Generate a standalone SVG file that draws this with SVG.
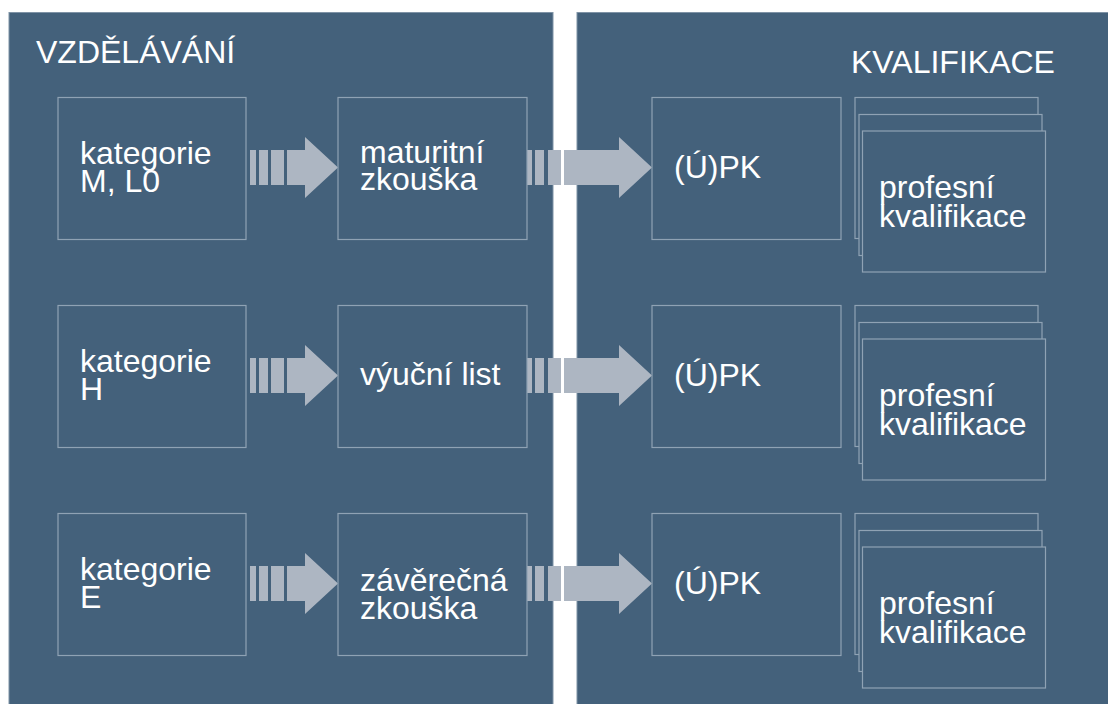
<svg xmlns="http://www.w3.org/2000/svg" xmlns:xlink="http://www.w3.org/1999/xlink" width="1108" height="704" viewBox="0 0 1108 704">
<style>
.panel{fill:#44617b;stroke:#7f93a6;stroke-width:1}
.box{fill:#44617b;stroke:#8fa2b4;stroke-width:1.2}
.t{font-family:"Liberation Sans",Arial,Helvetica,sans-serif;font-size:32px;fill:#ffffff}
.arr{fill:#adb6c2}
</style>
<defs>
<g id="arrA" class="arr">
<rect x="250" y="150" width="6" height="35"/>
<rect x="259" y="150" width="9" height="35"/>
<rect x="271" y="150" width="13" height="35"/>
<polygon points="287,150 305,150 305,137 338,167.5 305,198 305,185 287,185"/>
</g>
<g id="arrB" class="arr">
<rect x="527" y="150" width="5" height="35"/>
<rect x="535" y="150" width="9" height="35"/>
<rect x="548" y="150" width="13" height="35"/>
<polygon points="564,150 619,150 619,137 652,167.5 619,198 619,185 564,185"/>
</g>
</defs>
<rect width="1108" height="704" fill="#ffffff"/>
<g id="panel-vzdelavani">
<rect class="panel" x="9" y="12.5" width="544" height="700"/>
<text class="t" x="36" y="63">VZDĚLÁVÁNÍ</text>
</g>
<g id="panel-kvalifikace">
<rect class="panel" x="577" y="12.5" width="540" height="700"/>
<text class="t" x="851" y="73">KVALIFIKACE</text>
</g>
<g id="connectors">
<use xlink:href="#arrA"/>
<use xlink:href="#arrB"/>
<use xlink:href="#arrA" transform="translate(0,208)"/>
<use xlink:href="#arrB" transform="translate(0,208)"/>
<use xlink:href="#arrA" transform="translate(0,416)"/>
<use xlink:href="#arrB" transform="translate(0,416)"/>
</g>
<g id="node-kat-m">
<rect class="box" x="58" y="97.5" width="188" height="142"/>
<text class="t" x="80" y="164">kategorie</text>
<text class="t" x="80" y="192">M, L0</text>
</g>
<g id="node-maturitni">
<rect class="box" x="338" y="97.5" width="189" height="142"/>
<text class="t" x="360" y="163">maturitní</text>
<text class="t" x="360" y="190">zkouška</text>
</g>
<g id="node-upk-1">
<rect class="box" x="652" y="97.5" width="189" height="142"/>
<text class="t" x="674" y="178">(Ú)PK</text>
</g>
<g id="node-pk-1">
<rect class="box" x="855" y="97.5" width="183" height="141"/>
<rect class="box" x="859" y="114.5" width="183" height="141"/>
<rect class="box" x="862.5" y="131" width="183" height="141"/>
<text class="t" x="879" y="198">profesní</text>
<text class="t" x="879" y="227">kvalifikace</text>
</g>
<g id="node-kat-h">
<rect class="box" x="58" y="305.5" width="188" height="142"/>
<text class="t" x="80" y="372">kategorie</text>
<text class="t" x="80" y="400">H</text>
</g>
<g id="node-vyucni">
<rect class="box" x="338" y="305.5" width="189" height="142"/>
<text class="t" x="360" y="385">výuční list</text>
</g>
<g id="node-upk-2">
<rect class="box" x="652" y="305.5" width="189" height="142"/>
<text class="t" x="674" y="386">(Ú)PK</text>
</g>
<g id="node-pk-2">
<rect class="box" x="855" y="305.5" width="183" height="141"/>
<rect class="box" x="859" y="322.5" width="183" height="141"/>
<rect class="box" x="862.5" y="339" width="183" height="141"/>
<text class="t" x="879" y="406">profesní</text>
<text class="t" x="879" y="435">kvalifikace</text>
</g>
<g id="node-kat-e">
<rect class="box" x="58" y="513.5" width="188" height="142"/>
<text class="t" x="80" y="580">kategorie</text>
<text class="t" x="80" y="608">E</text>
</g>
<g id="node-zaverecna">
<rect class="box" x="338" y="513.5" width="189" height="142"/>
<text class="t" x="360" y="591">závěrečná</text>
<text class="t" x="360" y="619">zkouška</text>
</g>
<g id="node-upk-3">
<rect class="box" x="652" y="513.5" width="189" height="142"/>
<text class="t" x="674" y="594">(Ú)PK</text>
</g>
<g id="node-pk-3">
<rect class="box" x="855" y="513.5" width="183" height="141"/>
<rect class="box" x="859" y="530.5" width="183" height="141"/>
<rect class="box" x="862.5" y="547" width="183" height="141"/>
<text class="t" x="879" y="614">profesní</text>
<text class="t" x="879" y="643">kvalifikace</text>
</g>
</svg>
